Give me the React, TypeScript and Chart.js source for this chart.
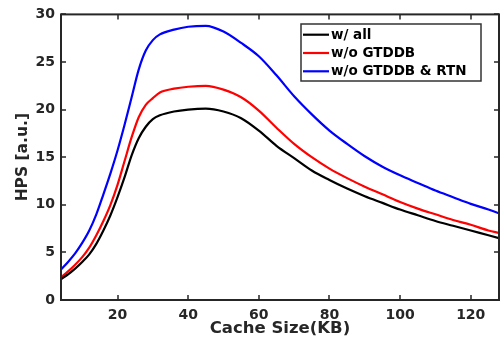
import React, { useEffect, useRef } from "react";
import { Chart, registerables } from "chart.js";

Chart.register(...registerables);

const cacheSize = [4, 6, 8, 10, 12, 14, 16, 18, 20, 22, 24, 26, 28, 30, 32, 36, 40, 45, 50, 55, 60, 65, 70, 75, 80, 85, 90, 95, 100, 105, 110, 115, 120, 125, 128];
const wAll = [2.2, 2.7, 3.3, 4.0, 4.8, 5.9, 7.3, 8.9, 10.8, 12.9, 15.2, 17.0, 18.2, 19.0, 19.4, 19.8, 20.0, 20.1, 19.8, 19.1, 17.8, 16.2, 14.9, 13.6, 12.6, 11.7, 10.9, 10.2, 9.5, 8.9, 8.3, 7.8, 7.3, 6.8, 6.5];
const woGTDDB = [2.4, 3.0, 3.7, 4.5, 5.5, 6.8, 8.3, 10.0, 12.1, 14.6, 17.1, 19.2, 20.5, 21.2, 21.8, 22.2, 22.4, 22.5, 22.1, 21.3, 19.9, 18.1, 16.4, 15.0, 13.8, 12.8, 11.9, 11.1, 10.3, 9.6, 9.0, 8.4, 7.9, 7.3, 7.05];
const woGTDDBRTN = [3.2, 4.0, 4.9, 6.0, 7.3, 9.0, 11.1, 13.3, 15.7, 18.4, 21.3, 24.2, 26.2, 27.3, 27.9, 28.4, 28.7, 28.8, 28.2, 27.0, 25.6, 23.6, 21.4, 19.5, 17.8, 16.4, 15.1, 14.0, 13.1, 12.3, 11.5, 10.8, 10.1, 9.5, 9.1];

const seriesLabels = ["w/ all", "w/o GTDDB", "w/o GTDDB & RTN"];
const seriesColors = ["#000000", "#ff0000", "#0000ff"];
const xTicks = [20, 40, 60, 80, 100, 120];
const yTicks = [0, 5, 10, 15, 20, 25, 30];

const AXIS = "#262626";
const FONT = "'DejaVu Sans', sans-serif";

const framePlugin = {
  id: "frameTicks",
  afterDatasetsDraw(chart: any) {
    const { ctx, chartArea: a, scales } = chart;
    const xs = scales.x;
    const ys = scales.y;
    ctx.save();
    ctx.strokeStyle = AXIS;
    ctx.lineWidth = 2;
    ctx.strokeRect(a.left, a.top, a.right - a.left, a.bottom - a.top);
    ctx.lineWidth = 1.5;
    const tl = 5;
    ctx.beginPath();
    xTicks.forEach((v) => {
      const px = Math.round(xs.getPixelForValue(v));
      ctx.moveTo(px, a.bottom);
      ctx.lineTo(px, a.bottom - tl);
      ctx.moveTo(px, a.top);
      ctx.lineTo(px, a.top + tl);
    });
    yTicks.forEach((v) => {
      const py = Math.round(ys.getPixelForValue(v));
      ctx.moveTo(a.left, py);
      ctx.lineTo(a.left + tl, py);
      ctx.moveTo(a.right, py);
      ctx.lineTo(a.right - tl, py);
    });
    ctx.stroke();

    // legend
    const bx = 301, by = 24, bw = 180, bh = 57;
    ctx.fillStyle = "#ffffff";
    ctx.fillRect(bx, by, bw, bh);
    ctx.strokeStyle = "#333333";
    ctx.lineWidth = 1.5;
    ctx.strokeRect(bx, by, bw, bh);
    ctx.font = `bold 13.5px ${FONT}`;
    ctx.textBaseline = "middle";
    ctx.textAlign = "left";
    chart.data.datasets.forEach((ds: any, i: number) => {
      const ry = by + 10.7 + i * 18.3;
      ctx.strokeStyle = ds.borderColor;
      ctx.lineWidth = 2.2;
      ctx.beginPath();
      ctx.moveTo(bx + 2, ry);
      ctx.lineTo(bx + 28, ry);
      ctx.stroke();
      ctx.fillStyle = "#000000";
      ctx.fillText(ds.label, bx + 30, ry + 0.5);
    });
    ctx.restore();
  },
};

export default function App() {
  const ref = useRef<HTMLCanvasElement>(null);
  useEffect(() => {
    if (!ref.current) return;
    const series = [wAll, woGTDDB, woGTDDBRTN];
    const chart = new Chart(ref.current, {
      type: "line",
      data: {
        datasets: series.map((s, i) => ({
          label: seriesLabels[i],
          data: cacheSize.map((x, j) => ({ x, y: s[j] })),
          borderColor: seriesColors[i],
          backgroundColor: seriesColors[i],
          borderWidth: 2.2,
          pointRadius: 0,
          fill: false,
          cubicInterpolationMode: "monotone" as const,
        })),
      },
      options: {
        animation: false,
        responsive: false,
        maintainAspectRatio: false,
        layout: { padding: { top: 13, right: 1, left: 0, bottom: 0 } },
        plugins: { legend: { display: false }, tooltip: { enabled: false } },
        scales: {
          x: {
            type: "linear",
            min: 4,
            max: 128,
            grid: { display: false, drawTicks: false },
            border: { display: false },
            afterBuildTicks: (s: any) => {
              s.ticks = xTicks.map((v) => ({ value: v }));
            },
            afterFit: (s: any) => {
              s.height = 43;
            },
            ticks: {
              padding: 7,
              color: AXIS,
              font: { family: FONT, size: 14, weight: "bold" },
              maxRotation: 0,
            },
            title: {
              display: true,
              text: "Cache Size(KB)",
              color: AXIS,
              font: { family: FONT, size: 16.5, weight: "bold" },
              padding: { top: 0, bottom: 4 },
            },
          },
          y: {
            type: "linear",
            min: 0,
            max: 30,
            grid: { display: false, drawTicks: false },
            border: { display: false },
            afterBuildTicks: (s: any) => {
              s.ticks = yTicks.map((v) => ({ value: v }));
            },
            afterFit: (s: any) => {
              s.width = 61;
            },
            ticks: {
              padding: 6,
              color: AXIS,
              font: { family: FONT, size: 14, weight: "bold" },
            },
            title: {
              display: true,
              text: "HPS [a.u.]",
              color: AXIS,
              font: { family: FONT, size: 15.5, weight: "bold" },
              padding: { top: 14, bottom: 0 },
            },
          },
        },
      },
      plugins: [framePlugin],
    });
    return () => chart.destroy();
  }, []);
  return (
    <div style={{ position: "absolute", left: 0, top: 0, width: 500, height: 343, background: "#fff" }}>
      <canvas ref={ref} width={500} height={343} style={{ width: 500, height: 343 }} />
    </div>
  );
}
